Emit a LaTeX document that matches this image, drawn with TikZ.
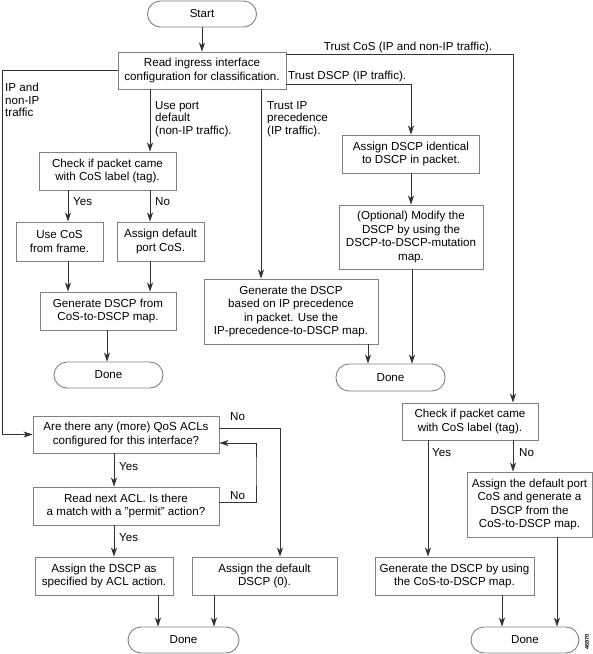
\documentclass[tikz,border=0pt]{standalone}
\usepackage{fontspec}
\setmainfont{Liberation Sans}
\usetikzlibrary{arrows.meta}

\tikzset{
  box/.style={draw=black!50, line width=0.9pt, inner sep=0pt, align=center,
    font=\fontsize{11.6}{13.5}\selectfont},
  term/.style={box, rounded corners=13pt},
  lbl/.style={inner sep=0pt, align=left, font=\fontsize{11.6}{12.5}\selectfont},
  flow/.style={draw=black!80, line width=0.9pt,
    -{Stealth[length=9pt,width=6pt,inset=2.5pt]}},
}

\begin{document}
\begin{tikzpicture}[x=1pt,y=-1pt]
	\useasboundingbox (0,0) rectangle (593,654);
	\node[term, minimum width=109pt, minimum height=26pt] (Start) at (202,14) {Start};
	\node[box, minimum width=168pt, minimum height=37pt] (Read) at (202,70.5) {Read ingress interface\\configuration for classification.};
	\node[box, minimum width=137pt, minimum height=38pt] (Chk1) at (107.5,171) {Check if packet came\\with CoS label (tag).};
	\node[box, minimum width=87pt, minimum height=39pt] (UseCoS) at (59.5,241.5) {Use CoS\\from frame.};
	\node[box, minimum width=87pt, minimum height=39pt] (PortCoS) at (160.5,241.5) {Assign default\\port CoS.};
	\node[box, minimum width=136pt, minimum height=38pt] (GenCoS) at (108,311) {Generate DSCP from\\CoS-to-DSCP map.};
	\node[term, minimum width=109pt, minimum height=26pt] (Done1) at (108.5,375) {Done};
	\node[box, minimum width=174pt, minimum height=65pt] (GenPrec) at (291,311.5) {Generate the DSCP\\based on IP precedence\\in packet. Use the\\IP-precedence-to-DSCP map.};
	\node[box, minimum width=137pt, minimum height=38pt] (AssignId) at (411,154) {Assign DSCP identical\\to DSCP in packet.};
	\node[box, minimum width=144pt, minimum height=64pt] (Modify) at (411,237) {(Optional) Modify the\\DSCP by using the\\DSCP-to-DSCP-mutation\\map.};
	\node[term, minimum width=109pt, minimum height=27pt] (Done2) at (390.5,377.5) {Done};
	\node[box, minimum width=136pt, minimum height=37pt] (Chk2) at (470,421.5) {Check if packet came\\with CoS label (tag).};
	\node[box, minimum width=125pt, minimum height=65pt] (DefPort) at (529.5,504.5) {Assign the default port\\CoS and generate a\\DSCP from the\\CoS-to-DSCP map.};
	\node[box, minimum width=159pt, minimum height=38pt] (GenCoS2) at (454.5,576) {Generate the DSCP by using\\the CoS-to-DSCP map.};
	\node[term, minimum width=108pt, minimum height=26pt] (Done3) at (525,640) {Done};
	\node[box, minimum width=186pt, minimum height=37pt] (AreAcl) at (126,434.5) {Are there any (more) QoS ACLs\\configured for this interface?};
	\node[box, minimum width=186pt, minimum height=38pt] (ReadAcl) at (126,506) {Read next ACL. Is there\\a match with a "permit" action?};
	\node[box, minimum width=138pt, minimum height=38pt] (AssignAcl) at (104,576) {Assign the DSCP as\\specified by ACL action.};
	\node[box, minimum width=145pt, minimum height=38pt] (AssignZero) at (264.5,576) {Assign the default\\DSCP (0).};
	\node[term, minimum width=111pt, minimum height=26pt] (Done4) at (183.5,640) {Done};

	\node[lbl, anchor=north west] (lblAll) at (5,83) {IP and\\non-IP\\traffic};
	\node[lbl, anchor=north west] (lblPort) at (155,101) {Use port\\default\\(non-IP traffic).};
	\node[lbl, anchor=north west] (lblPrec) at (267,101) {Trust IP\\precedence\\(IP traffic).};
	\node[lbl] (lblCoS) at (408,47) {Trust CoS (IP and non-IP traffic).};
	\node[lbl, anchor=west] (lblDscp) at (288,76) {Trust DSCP (IP traffic).};
	\node[lbl, anchor=west] (yes1) at (73,202) {Yes};
	\node[lbl, anchor=west] (no1) at (155,202) {No};
	\node[lbl, anchor=west] (yes2) at (432,453) {Yes};
	\node[lbl, anchor=west] (no2) at (519,453) {No};
	\node[lbl, anchor=west] (no3) at (230,417) {No};
	\node[lbl, anchor=west] (yes3) at (119,467) {Yes};
	\node[lbl, anchor=west] (no4) at (230,496) {No};
	\node[lbl, anchor=west] (yes4) at (119,538) {Yes};
	\node[rotate=90, inner sep=0pt, font=\fontsize{5.5}{6}\selectfont\bfseries] (Fig) at (587,642) {46970};

	\coordinate (Lft) at (2,434.5);
	\coordinate (Loop) at (256,470);
	\draw[flow] (Start) -- (Read);
	\draw[flow] (Read.west) -| (Lft) -- (AreAcl.west);
	\draw[flow] ([yshift=-3pt]Read.north east) -| (Chk2.north -| 513,0);
	\draw[flow] ([yshift=5pt]Read.south east) -| (AssignId.north);
	\draw[flow] (Read.south -| 150,0) -- (Chk1.north -| 150,0);
	\draw[flow] (Read.south -| 261,0) -- (GenPrec.north -| 261,0);
	\draw[flow] (Chk1.south -| 68,0) -- (UseCoS.north -| 68,0);
	\draw[flow] (Chk1.south -| 150,0) -- (PortCoS.north -| 150,0);
	\draw[flow] (UseCoS.south -| 68,0) -- (GenCoS.north -| 68,0);
	\draw[flow] (PortCoS.south -| 150,0) -- (GenCoS.north -| 150,0);
	\draw[flow] (GenCoS.south -| 107,0) -- (Done1.north -| 107,0);
	\draw[flow] (AssignId) -- (Modify);
	\draw[flow] (GenPrec.south -| 368,0) -- (Done2.north -| 368,0);
	\draw[flow] (Modify.south -| 412,0) -- (Done2.north -| 412,0);
	\draw[flow] (Chk2.south -| 428,0) -- (GenCoS2.north -| 428,0);
	\draw[flow] (Chk2.south -| 513,0) -- (DefPort.north -| 513,0);
	\draw[flow] (GenCoS2.south -| 502,0) -- (Done3.north -| 502,0);
	\draw[flow] (DefPort.south -| 557,0) -- (Done3.north -| 557,0);
	\draw[flow] (AreAcl.south -| 114,0) -- (ReadAcl.north -| 114,0);
	\draw[flow] (ReadAcl.east |- 0,502) -| (Loop) |- (AreAcl.east |- 0,443);
	\draw[flow] (AreAcl.east |- 0,428) -| (AssignZero.north -| 280,0);
	\draw[flow] (ReadAcl.south -| 114,0) -- (AssignAcl.north -| 114,0);
	\draw[flow] (AssignAcl.south -| 158,0) -- (Done4.north -| 158,0);
	\draw[flow] (AssignZero.south -| 214,0) -- (Done4.north -| 214,0);
\end{tikzpicture}
\end{document}
